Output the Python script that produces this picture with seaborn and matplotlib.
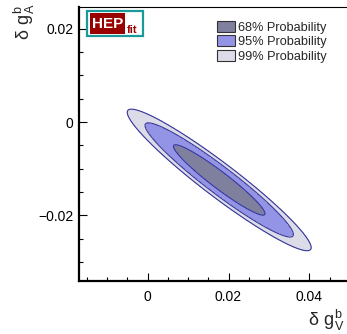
import numpy as np
import matplotlib
matplotlib.use('Agg')
from matplotlib import pyplot as plt
from matplotlib.patches import Patch, Rectangle
from matplotlib.ticker import MultipleLocator
import seaborn as sns

# contour levels (probability) and their fill colours
probabilities = [0.68, 0.95, 0.99]
legendLabels = ['68% Probability', '95% Probability', '99% Probability']
fillColors = ['#7f7f9e', '#9494e6', '#dcdce8']
lineColor = '#35359a'

# gaussian
centerV, centerA = 0.0177, -0.0124
sigmaV, sigmaA = 0.0075, 0.0050
rho = -0.955

xTicks = [0, 0.02, 0.04]
yTicks = [-0.02, 0, 0.02]
xLim = (-0.017, 0.05)
yLim = (-0.034, 0.0247)

sns.set_style('ticks')
plt.rcParams['font.family'] = ['Liberation Sans', 'DejaVu Sans']
plt.rcParams['mathtext.fontset'] = 'custom'
plt.rcParams['mathtext.rm'] = 'Liberation Sans'

fig = plt.figure(figsize=(3.47, 3.34), dpi=100)
ax = fig.add_axes([0.2277, 0.1596, 0.7801, 0.8198])

# mahalanobis distance on a grid -> chi2 levels for 2 dof
gv = np.linspace(xLim[0], xLim[1], 700)
ga = np.linspace(yLim[0], yLim[1], 700)
X, Y = np.meshgrid(gv, ga)
zx = (X - centerV) / sigmaV
zy = (Y - centerA) / sigmaA
d2 = (zx ** 2 - 2 * rho * zx * zy + zy ** 2) / (1 - rho ** 2)
chi2 = [-2 * np.log(1 - p) for p in probabilities]

ax.contourf(X, Y, d2, levels=[0] + chi2, colors=fillColors)
ax.contour(X, Y, d2, levels=chi2, colors=lineColor, linewidths=0.8)

ax.set_xlim(xLim)
ax.set_ylim(yLim)
ax.set_xticks(xTicks)
ax.set_yticks(yTicks)
ax.set_xticklabels(['0', '0.02', '0.04'])
ax.set_yticklabels(['\u22120.02', '0', '0.02'])
ax.xaxis.set_minor_locator(MultipleLocator(0.005))
ax.yaxis.set_minor_locator(MultipleLocator(0.005))
ax.tick_params(which='both', direction='in', width=0.8, labelsize=10, colors='black')
ax.tick_params(which='major', length=6)
ax.tick_params(which='minor', length=3)
ax.tick_params(axis='x', which='major', pad=7)
ax.tick_params(axis='y', which='major', pad=4)
for s in ['left', 'bottom']:
    ax.spines[s].set_linewidth(1.6)
    ax.spines[s].set_color('black')
ax.spines['top'].set_linewidth(0.8)
ax.spines['top'].set_color('black')
ax.spines['right'].set_visible(False)

# axis titles, ROOT style
fig.text(344 / 347, 1 - 333 / 334, r'$\mathregular{\delta\ g_V^b}$', fontsize=13,
         ha='right', va='bottom')
fig.text(24 / 347, 1 - 4 / 334, r'$\mathregular{\delta\ g_A^b}$', fontsize=13,
         ha='center', va='top', rotation=90)

# legend
handles = [Patch(facecolor=c, edgecolor='#333333', linewidth=0.8) for c in fillColors]
fig.legend(handles, legendLabels, loc='upper left', bbox_to_anchor=(217 / 347, 1 - 21 / 334),
           frameon=False, fontsize=9.2, borderpad=0, borderaxespad=0,
           handlelength=1.4, handleheight=0.95, handletextpad=0.25, labelspacing=0.12)

# HEPfit logo
fig.add_artist(Rectangle((87 / 347, 1 - 36 / 334), 56 / 347, 25 / 334, transform=fig.transFigure,
                         facecolor='white', edgecolor='#1a9a9a', linewidth=1.6))
fig.add_artist(Rectangle((90 / 347, 1 - 34 / 334), 35 / 347, 21 / 334, transform=fig.transFigure,
                         facecolor='#990000', edgecolor='none'))
fig.text(107.5 / 347, 1 - 23.5 / 334, 'HEP', color='white', fontsize=11, fontweight='bold',
         ha='center', va='center')
fig.text(127 / 347, 1 - 33 / 334, 'fit', color='#990000', fontsize=8, fontweight='bold',
         ha='left', va='baseline')

fig.savefig('out.png', dpi=100)
